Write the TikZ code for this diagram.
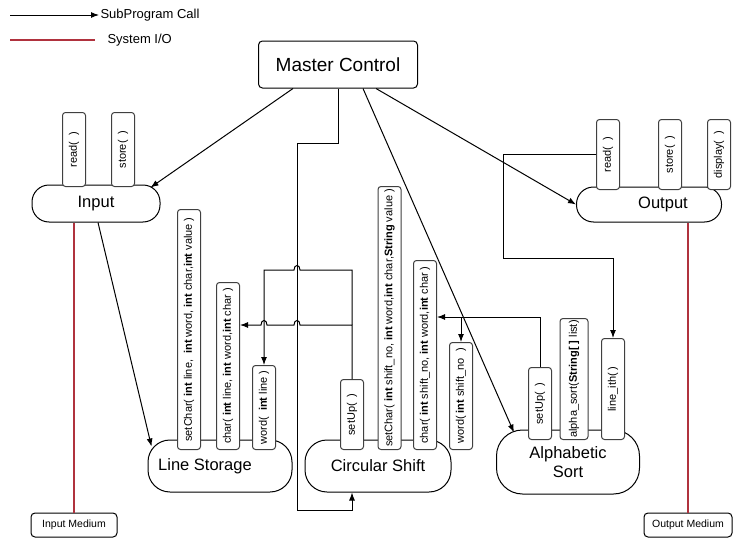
\documentclass[tikz,border=0pt]{standalone}
\usepackage{fontspec}
\setmainfont{Liberation Sans}
\usetikzlibrary{arrows.meta}
\definecolor{iored}{RGB}{176,50,62}
\begin{document}
\begin{tikzpicture}[x=1pt, y=-1pt, >={Latex[length=8pt,width=6pt]}, line width=1pt,
    box/.style={draw, rounded corners=4pt, fill=white},
    capsule/.style={draw, rounded corners=17pt, fill=white, font=\fontsize{16.5}{19}\selectfont},
    method/.style={draw=black!75, rounded corners=3pt, fill=white, anchor=south, minimum width=23pt, inner sep=0pt, font=\fontsize{11}{13}\selectfont},
    io/.style={iored, line width=1.2pt}]
    \useasboundingbox (0,0) rectangle (740,538);

    %Legend
    \coordinate (callfrom) at (10,15);
    \node[anchor=west, inner sep=1pt, font=\fontsize{13}{15}\selectfont] (calltext) at (99,15) {SubProgram Call};
    \draw [->] (callfrom) -- (calltext.west);
    \coordinate (iofrom) at (10,40);
    \node[anchor=west, inner sep=1pt, font=\fontsize{13}{15}\selectfont] (iotext) at (106,40) {System I/O};
    \draw [io] (iofrom) -- ([xshift=-11pt]iotext.west);

    %Modules
    \node[box, minimum width=159pt, minimum height=47pt, font=\fontsize{19}{22}\selectfont] (master) at (338,64.5) {Master Control};
    \node[capsule, minimum width=128pt, minimum height=37pt] (input) at (96,203.5) {Input};
    \node[capsule, minimum width=145pt, minimum height=35pt] (output) at (649,204.5) {\hspace*{28pt}Output};
    \node[capsule, minimum width=144pt, minimum height=52pt, rounded corners=22pt] (lines) at (220,466) {Line Storage\hspace*{30pt}};
    \node[capsule, minimum width=146pt, minimum height=52pt, rounded corners=22pt] (shift) at (378,466) {Circular Shift};
    \node[capsule, minimum width=143pt, minimum height=64pt, rounded corners=26pt, align=center] (alpha) at (568,462) {Alphabetic\\Sort};

    %Input and Output methods
    \node[method, minimum height=74pt] (in_read) at (74,187) {\rotatebox{90}{read(~~)}};
    \node[method, minimum height=74pt] (in_store) at (123,187) {\rotatebox{90}{store(~~)}};
    \node[method, minimum height=70pt] (out_read) at (608,190) {\rotatebox{90}{read(~~)}};
    \node[method, minimum height=70pt] (out_store) at (670,190) {\rotatebox{90}{store(~~)}};
    \node[method, minimum height=70pt] (out_disp) at (719,190) {\rotatebox{90}{display(~~)}};

    %Line Storage methods
    \node[method, minimum height=240pt] (ls_set) at (189,450) {\rotatebox{90}{setChar( \textbf{int} line,~ \textbf{int} word, \textbf{int} char,\textbf{int} value )}};
    \node[method, minimum height=167pt] (ls_char) at (228,450) {\rotatebox{90}{char( \textbf{int} line, \textbf{int} word,\textbf{int} char )}};
    \node[method, minimum height=84pt] (ls_word) at (264,450) {\rotatebox{90}{word(~ \textbf{int} line )}};

    %Circular Shift methods
    \node[method, minimum height=70pt] (cs_setup) at (352,450) {\rotatebox{90}{setUp(~~)}};
    \node[method, minimum height=263pt] (cs_set) at (389.5,450) {\rotatebox{90}{setChar( \textbf{int} shift\_no, \textbf{int} word,\textbf{int} char,\textbf{String} value )}};
    \node[method, minimum height=189pt] (cs_char) at (425,450) {\rotatebox{90}{char( \textbf{int} shift\_no, \textbf{int} word,\textbf{int} char )}};
    \node[method, minimum height=107pt] (cs_word) at (461,450) {\rotatebox{90}{word( \textbf{int} shift\_no~ )}};

    %Alphabetic Sort methods
    \node[method, minimum height=72pt] (as_setup) at (540,440) {\rotatebox{90}{setUp(~~)}};
    \node[method, minimum height=121pt, minimum width=28pt] (as_sort) at (574,440) {\rotatebox{90}{alpha\_sort(\textbf{String[~]} list)}};
    \node[method, minimum height=101pt] (as_line) at (613,440) {\rotatebox{90}{line\_ith(~)}};

    %Media
    \node[box, minimum width=86pt, minimum height=24pt, font=\fontsize{10.5}{12}\selectfont] (in_med) at (74,525) {Input Medium};
    \node[box, minimum width=88pt, minimum height=24pt, font=\fontsize{10.5}{12}\selectfont] (out_med) at (688,525) {Output Medium};

    %System I/O
    \draw [io] (in_med.north |- input.south) -- (in_med.north);
    \draw [io] (out_med.north |- output.south) -- (out_med.north);

    %Master Control calls
    \draw [->] ([xshift=35pt]master.south west) -- ([xshift=-10pt,yshift=-3pt]input.north east);
    \draw [->] ([xshift=25pt]master.south) -- ([xshift=18pt,yshift=-3pt]alpha.north west);
    \draw [->] ([xshift=38pt]master.south) -- (output.west);
    \coordinate (mtop) at (297,143);
    \coordinate (mbot) at (297,510);
    \draw [->] (master.south) |- (mtop) -- (mbot) -| (cs_setup.south |- shift.south);

    %Input to Line Storage
    \draw [->] ([xshift=2pt]input.south) -- ([xshift=4pt,yshift=-7pt]lines.north west);

    %Circular Shift setUp to Line Storage
    \coordinate (cschar) at (0,325);
    \coordinate (csword) at (0,270);
    \draw [->] (cs_setup.north) -- (cs_setup.north |- cschar) -- (300,325) .. controls (300,319) and (294,319) .. (294,325)
        -- (267,325) .. controls (267,319) and (261,319) .. (261,325) -- (ls_char.east |- cschar);
    \draw [->] (cs_setup.north |- cschar) -- (cs_setup.north |- csword) -- (300,270) .. controls (300,264) and (294,264) .. (294,270)
        -- (ls_word.north |- csword) -- (ls_word.north);

    %Alphabetic Sort setUp to Circular Shift
    \coordinate (asto) at (0,317);
    \draw [->] (as_setup.north) |- (cs_char.east |- asto);
    \draw [->] (cs_word.north |- asto) -- (cs_word.north);

    %Output read to line_ith
    \coordinate (outbend) at (503,258);
    \draw [->] (out_read.west) -| (outbend) -| (as_line.north);

\end{tikzpicture}
\end{document}
